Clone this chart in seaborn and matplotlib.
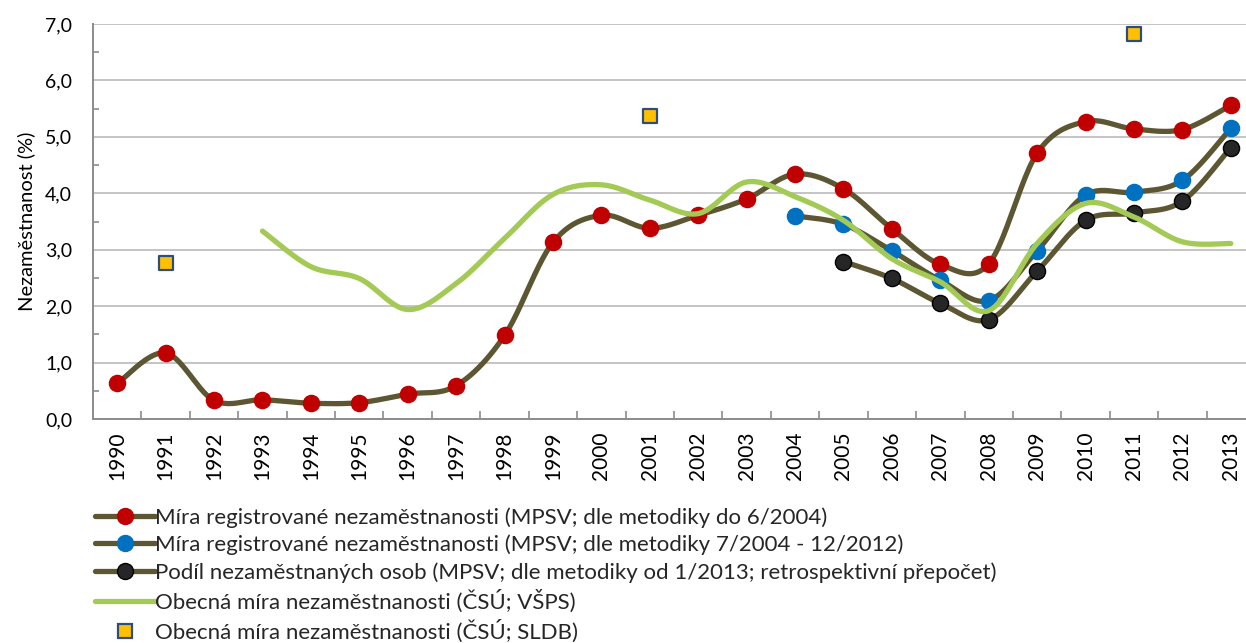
"""Nezaměstnanost v ČR 1990-2013 — recreated line chart."""

import numpy as np
import pandas as pd
import matplotlib
matplotlib.use("Agg")
import matplotlib.pyplot as plt
from matplotlib.lines import Line2D
from matplotlib.ticker import FixedLocator, FuncFormatter, MultipleLocator
import seaborn as sns

# --- data ---
years = ["1990", "1991", "1992", "1993", "1994", "1995", "1996", "1997",
         "1998", "1999", "2000", "2001", "2002", "2003", "2004", "2005",
         "2006", "2007", "2008", "2009", "2010", "2011", "2012", "2013"]

reg_old = [0.63, 1.17, 0.33, 0.34, 0.28, 0.29, 0.44, 0.59, 1.48, 3.13,
           3.61, 3.38, 3.61, 3.90, 4.34, 4.08, 3.37, 2.74, 2.75, 4.71,
           5.27, 5.14, 5.13, 5.56]

reg_new_years = ["2004", "2005", "2006", "2007", "2008", "2009", "2010",
                 "2011", "2012", "2013"]
reg_new = [3.60, 3.45, 2.98, 2.46, 2.10, 2.98, 3.97, 4.02, 4.23, 5.15]

podil_years = ["2005", "2006", "2007", "2008", "2009", "2010", "2011",
               "2012", "2013"]
podil = [2.79, 2.49, 2.05, 1.76, 2.62, 3.52, 3.65, 3.86, 4.81]

vsps_years = ["1993", "1994", "1995", "1996", "1997", "1998", "1999",
              "2000", "2001", "2002", "2003", "2004", "2005", "2006",
              "2007", "2008", "2009", "2010", "2011", "2012", "2013"]
vsps = [3.33, 2.70, 2.49, 1.94, 2.40, 3.20, 3.98, 4.15, 3.88, 3.64, 4.20,
        3.94, 3.52, 2.84, 2.43, 1.92, 3.11, 3.82, 3.58, 3.14, 3.11]

sldb_years = ["1991", "2001", "2011"]
sldb = [2.76, 5.37, 6.82]

labels = [
    "Míra registrované nezaměstnanosti (MPSV; dle metodiky do 6/2004)",
    "Míra registrované nezaměstnanosti (MPSV; dle metodiky 7/2004 - 12/2012)",
    "Podíl nezaměstnaných osob (MPSV; dle metodiky od 1/2013; retrospektivní přepočet)",
    "Obecná míra nezaměstnanosti (ČSÚ; VŠPS)",
    "Obecná míra nezaměstnanosti (ČSÚ; SLDB)",
]

LINE_C = "#5C5632"
GREEN = "#A4CA56"
RED = "#C00000"
BLUE = "#0070C0"
DARK = "#262626"
GOLD = "#FFC000"
NAVY = "#2E4D7B"
GRID = "#C4C4C4"
AXIS = "#8C8C8C"


def smooth(xs, ys, n=24):
    """Excel-like smoothed line (Catmull-Rom through the points)."""
    p = np.column_stack([xs, ys]).astype(float)
    p = np.vstack([p[0], p, p[-1]])
    out = []
    t = np.linspace(0, 1, n, endpoint=False)[:, None]
    for i in range(1, len(p) - 2):
        p0, p1, p2, p3 = p[i - 1], p[i], p[i + 1], p[i + 2]
        c1 = p1 + (p2 - p0) / 6
        c2 = p2 - (p3 - p1) / 6
        seg = ((1 - t) ** 3) * p1 + 3 * ((1 - t) ** 2) * t * c1 \
            + 3 * (1 - t) * t ** 2 * c2 + t ** 3 * p2
        out.append(seg)
    out.append(p[-2][None, :])
    out = np.vstack(out)
    return pd.DataFrame({"x": out[:, 0], "y": out[:, 1]})


def xpos(yrs):
    return [years.index(y) for y in yrs]


sns.set_theme(style="white")
plt.rcParams["font.family"] = ["Lato", "DejaVu Sans"]
FS = 14
FS_X = 15
FS_LEG = 16

fig = plt.figure(figsize=(12.46, 6.43), dpi=100)
ax = fig.add_axes([93 / 1246, 224 / 643, (1255 - 93) / 1246, 395 / 643])

series = [
    (xpos(years), reg_old, RED, RED),
    (xpos(reg_new_years), reg_new, BLUE, BLUE),
    (xpos(podil_years), podil, DARK, "black"),
]
z = 3
for xs, ys, fc, ec in series:
    curve = smooth(xs, ys)
    sns.lineplot(data=curve, x="x", y="y", sort=False, estimator=None,
                 color=LINE_C, lw=3.8, ax=ax, zorder=z)
    sns.scatterplot(x=xs, y=ys, s=135, color=fc, edgecolor=ec,
                    linewidth=1.0, ax=ax, zorder=z + 1)
    z += 2

curve = smooth(xpos(vsps_years), vsps)
sns.lineplot(data=curve, x="x", y="y", sort=False, estimator=None,
             color=GREEN, lw=3.8, ax=ax, zorder=z)
sns.scatterplot(x=xpos(sldb_years), y=sldb, marker="s", s=110, color=GOLD,
                edgecolor=NAVY, linewidth=1.6, ax=ax, zorder=z + 1)

# axes
ax.set_xlim(-0.5, len(years) - 0.5)
ax.set_ylim(0, 7)
ax.set_xticks(range(len(years)))
ax.set_xticklabels(years, rotation=90, fontsize=FS_X, color="black")
ax.xaxis.set_minor_locator(FixedLocator(np.arange(0.5, len(years) - 0.5, 1)))
ax.yaxis.set_major_locator(MultipleLocator(1))
ax.yaxis.set_minor_locator(MultipleLocator(0.5))
ax.yaxis.set_major_formatter(FuncFormatter(lambda v, _: f"{v:.1f}".replace(".", ",")))
ax.tick_params(axis="y", which="major", length=0, pad=15, labelsize=FS,
               labelcolor="black")
ax.tick_params(axis="y", which="minor", direction="in", length=4,
               width=1.2, color=AXIS, left=True)
ax.tick_params(axis="x", which="major", length=0, pad=9)
ax.tick_params(axis="x", which="minor", direction="in", length=5.5,
               width=1.2, color=AXIS, bottom=True)
ax.grid(axis="y", which="major", color=GRID, lw=1.4)
ax.grid(axis="x", visible=False)
for side in ["top", "right"]:
    ax.spines[side].set_visible(False)
for side in ["left", "bottom"]:
    ax.spines[side].set_color(AXIS)
    ax.spines[side].set_linewidth(1.4)
ax.set_xlabel("")
ax.set_ylabel("Nezaměstnanost (%)", fontsize=FS + 0.5, color="black", labelpad=7)

# legend
handles = [
    Line2D([], [], color=LINE_C, lw=3.8, marker="o", ms=11.5, mfc=RED, mec=RED),
    Line2D([], [], color=LINE_C, lw=3.8, marker="o", ms=11.5, mfc=BLUE, mec=BLUE),
    Line2D([], [], color=LINE_C, lw=3.8, marker="o", ms=11.5, mfc=DARK, mec="black"),
    Line2D([], [], color=GREEN, lw=3.8),
    Line2D([], [], ls="none", marker="s", ms=10, mfc=GOLD, mec=NAVY, mew=1.6),
]
fig.legend(handles, labels, loc="upper left", bbox_to_anchor=(95 / 1246, 1 - 507 / 643),
           frameon=False, fontsize=FS_LEG, handlelength=2.7, handletextpad=0.0,
           labelspacing=0.31, borderpad=0, borderaxespad=0)

fig.savefig("out.png", dpi=100)
